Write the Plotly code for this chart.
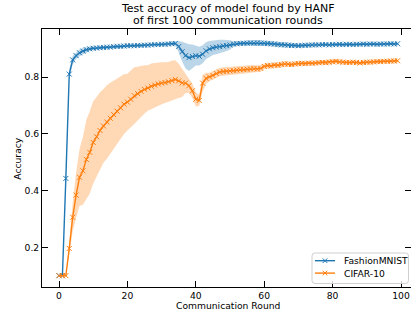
import plotly.graph_objects as go

rounds = list(range(100))

fmnist_mean = [
    0.100, 0.100, 0.443, 0.811, 0.861, 0.876, 0.886, 0.892, 0.897, 0.900,
    0.902, 0.903, 0.904, 0.905, 0.906, 0.906, 0.908, 0.909, 0.909, 0.910,
    0.911, 0.911, 0.911, 0.912, 0.912, 0.913, 0.913, 0.914, 0.915, 0.915,
    0.916, 0.916, 0.917, 0.918, 0.919, 0.908, 0.890, 0.876, 0.869, 0.873,
    0.876, 0.874, 0.881, 0.893, 0.900, 0.904, 0.906, 0.908, 0.910, 0.912,
    0.914, 0.917, 0.918, 0.919, 0.920, 0.920, 0.921, 0.920, 0.921, 0.920,
    0.920, 0.919, 0.918, 0.917, 0.915, 0.914, 0.914, 0.913, 0.912, 0.912,
    0.911, 0.912, 0.913, 0.913, 0.914, 0.914, 0.914, 0.915, 0.915, 0.914,
    0.915, 0.915, 0.916, 0.915, 0.916, 0.916, 0.915, 0.916, 0.916, 0.917,
    0.916, 0.917, 0.917, 0.916, 0.917, 0.917, 0.917, 0.918, 0.917, 0.918,
]
fmnist_std = [
    0.000, 0.000, 0.010, 0.015, 0.015, 0.012, 0.012, 0.012, 0.010, 0.008,
    0.006, 0.006, 0.006, 0.006, 0.006, 0.006, 0.006, 0.006, 0.006, 0.006,
    0.006, 0.006, 0.006, 0.006, 0.006, 0.006, 0.006, 0.006, 0.006, 0.006,
    0.006, 0.006, 0.006, 0.006, 0.008, 0.020, 0.035, 0.045, 0.047, 0.042,
    0.035, 0.033, 0.032, 0.030, 0.028, 0.026, 0.025, 0.024, 0.022, 0.020,
    0.016, 0.010, 0.008, 0.008, 0.008, 0.008, 0.009, 0.010, 0.010, 0.010,
    0.010, 0.010, 0.010, 0.010, 0.009, 0.009, 0.009, 0.009, 0.008, 0.008,
    0.008, 0.008, 0.008, 0.007, 0.007, 0.007, 0.007, 0.007, 0.006, 0.006,
    0.006, 0.006, 0.006, 0.006, 0.006, 0.006, 0.006, 0.006, 0.006, 0.006,
    0.006, 0.006, 0.006, 0.006, 0.006, 0.006, 0.006, 0.006, 0.006, 0.006,
]

cifar_mean = [
    0.100, 0.100, 0.100, 0.196, 0.306, 0.384, 0.447, 0.470, 0.510, 0.535,
    0.570, 0.590, 0.612, 0.628, 0.642, 0.655, 0.668, 0.680, 0.692, 0.705,
    0.712, 0.722, 0.735, 0.742, 0.750, 0.757, 0.762, 0.768, 0.772, 0.776,
    0.779, 0.781, 0.784, 0.788, 0.792, 0.787, 0.780, 0.779, 0.770, 0.752,
    0.722, 0.718, 0.779, 0.796, 0.801, 0.806, 0.813, 0.818, 0.820, 0.821,
    0.822, 0.823, 0.825, 0.826, 0.827, 0.828, 0.829, 0.830, 0.829, 0.831,
    0.838, 0.841, 0.840, 0.843, 0.842, 0.845, 0.847, 0.846, 0.845, 0.847,
    0.848, 0.849, 0.848, 0.850, 0.849, 0.850, 0.851, 0.852, 0.851, 0.853,
    0.854, 0.856, 0.854, 0.853, 0.852, 0.852, 0.853, 0.852, 0.850, 0.852,
    0.853, 0.853, 0.854, 0.855, 0.855, 0.856, 0.856, 0.857, 0.857, 0.858,
]
cifar_std = [
    0.000, 0.000, 0.000, 0.020, 0.050, 0.080, 0.100, 0.120, 0.140, 0.145,
    0.145, 0.140, 0.135, 0.130, 0.130, 0.125, 0.120, 0.115, 0.110, 0.105,
    0.100, 0.100, 0.100, 0.095, 0.090, 0.085, 0.080, 0.080, 0.078, 0.076,
    0.074, 0.072, 0.070, 0.070, 0.068, 0.060, 0.050, 0.035, 0.025, 0.025,
    0.025, 0.020, 0.030, 0.020, 0.015, 0.015, 0.015, 0.015, 0.015, 0.015,
    0.015, 0.015, 0.015, 0.015, 0.014, 0.014, 0.013, 0.013, 0.012, 0.012,
    0.010, 0.010, 0.010, 0.010, 0.010, 0.010, 0.010, 0.009, 0.009, 0.009,
    0.009, 0.009, 0.008, 0.008, 0.008, 0.008, 0.008, 0.008, 0.008, 0.008,
    0.008, 0.008, 0.008, 0.008, 0.008, 0.008, 0.008, 0.008, 0.008, 0.008,
    0.008, 0.008, 0.008, 0.008, 0.008, 0.008, 0.008, 0.008, 0.008, 0.008,
]

series_names = ["FashionMNIST", "CIFAR-10"]
series = [
    ("FashionMNIST", fmnist_mean, fmnist_std, "#1f77b4", "rgba(31,119,180,0.3)"),
    ("CIFAR-10", cifar_mean, cifar_std, "#ff7f0e", "rgba(255,127,14,0.3)"),
]

x_ticks = [0, 20, 40, 60, 80, 100]
y_ticks = [0.2, 0.4, 0.6, 0.8]

FONT = "DejaVu Sans"
W, H = 411, 318
ML, MR, MT, MB = 42, 0, 29, 31
PW, PH = W - ML - MR, H - MT - MB


def px(x):
    return (x - ML) / PW


def py(y):
    return (H - MB - y) / PH


fig = go.Figure()

# bands (drawn beneath lines, as in matplotlib)
for name, m, s, col, fcol in series:
    lo = [a - b for a, b in zip(m, s)]
    hi = [a + b for a, b in zip(m, s)]
    fig.add_trace(go.Scatter(x=rounds, y=lo, mode="lines", line=dict(width=0, color=fcol),
                             showlegend=False, hoverinfo="skip"))
    fig.add_trace(go.Scatter(x=rounds, y=hi, mode="lines", line=dict(width=0, color=fcol),
                             fill="tonexty", fillcolor=fcol, showlegend=False, hoverinfo="skip"))

for name, m, s, col, fcol in series:
    fig.add_trace(go.Scatter(
        x=rounds, y=m, mode="lines+markers", name=name, showlegend=False,
        line=dict(color=col, width=1.4),
        marker=dict(symbol="x-thin", size=5, color=col, line=dict(color=col, width=1)),
    ))

axis_common = dict(
    showgrid=False, zeroline=False, showline=True, linecolor="black", linewidth=1,
    ticks="inside", ticklen=6, tickwidth=1, tickcolor="black", mirror="ticks",
    automargin=False,
    tickfont=dict(family=FONT, size=9.2, color="black"),
)

# legend box (matplotlib-style, rounded corners) built from shapes + annotations
bx0, bx1, by0, by1, r = 312, 408.5, 253, 283.5, 3
box_path = (
    f"M {px(bx0 + r)},{py(by0)} L {px(bx1 - r)},{py(by0)} Q {px(bx1)},{py(by0)} {px(bx1)},{py(by0 + r)} "
    f"L {px(bx1)},{py(by1 - r)} Q {px(bx1)},{py(by1)} {px(bx1 - r)},{py(by1)} "
    f"L {px(bx0 + r)},{py(by1)} Q {px(bx0)},{py(by1)} {px(bx0)},{py(by1 - r)} "
    f"L {px(bx0)},{py(by0 + r)} Q {px(bx0)},{py(by0)} {px(bx0 + r)},{py(by0)} Z"
)
shapes = [dict(type="path", path=box_path, xref="paper", yref="paper",
               fillcolor="rgba(255,255,255,0.8)", line=dict(color="#d0d0d0", width=1), layer="above")]
annotations = []
for i, (name, m, s, col, fcol) in enumerate(series):
    ly = 260.7 + i * 12.4
    shapes.append(dict(type="line", xref="paper", yref="paper", x0=px(315), x1=px(335), y0=py(ly), y1=py(ly),
                       line=dict(color=col, width=1.4), layer="above"))
    d = 2.3
    shapes.append(dict(type="line", xref="paper", yref="paper", x0=px(325 - d), x1=px(325 + d),
                       y0=py(ly - d), y1=py(ly + d), line=dict(color=col, width=1), layer="above"))
    shapes.append(dict(type="line", xref="paper", yref="paper", x0=px(325 - d), x1=px(325 + d),
                       y0=py(ly + d), y1=py(ly - d), line=dict(color=col, width=1), layer="above"))
    annotations.append(dict(text=name, x=px(341.5), y=py(ly), xref="paper", yref="paper", showarrow=False,
                            xanchor="left", yanchor="middle", font=dict(family=FONT, size=9.2, color="black")))

annotations += [
    dict(text="Test accuracy of model found by HANF", x=0.504, y=py(8), xref="paper", yref="paper",
         showarrow=False, xanchor="center", yanchor="middle", font=dict(family=FONT, size=11, color="black")),
    dict(text="of first 100 communication rounds", x=0.504, y=py(20.5), xref="paper", yref="paper",
         showarrow=False, xanchor="center", yanchor="middle", font=dict(family=FONT, size=11, color="black")),
    dict(text="Communication Round", x=0.504, y=py(305.2), xref="paper", yref="paper",
         showarrow=False, xanchor="center", yanchor="middle", font=dict(family=FONT, size=9.2, color="black")),
    dict(text="Accuracy", x=px(16.7), y=0.5, xref="paper", yref="paper", textangle=-90,
         showarrow=False, xanchor="center", yanchor="middle", font=dict(family=FONT, size=9.2, color="black")),
]

fig.update_layout(
    width=W, height=H,
    margin=dict(l=ML, r=MR, t=MT, b=MB, autoexpand=False),
    paper_bgcolor="white", plot_bgcolor="white",
    font=dict(family=FONT, size=9.2, color="black"),
    xaxis=dict(range=[-4.97, 102.92], tickvals=x_ticks, **axis_common),
    yaxis=dict(range=[0.06, 0.970], tickvals=y_ticks, **axis_common),
    showlegend=False,
    shapes=shapes,
    annotations=annotations,
)

fig.write_html("out.html", config={"displayModeBar": False},
               post_script="document.body.style.margin='0';document.body.style.overflow='hidden';")
